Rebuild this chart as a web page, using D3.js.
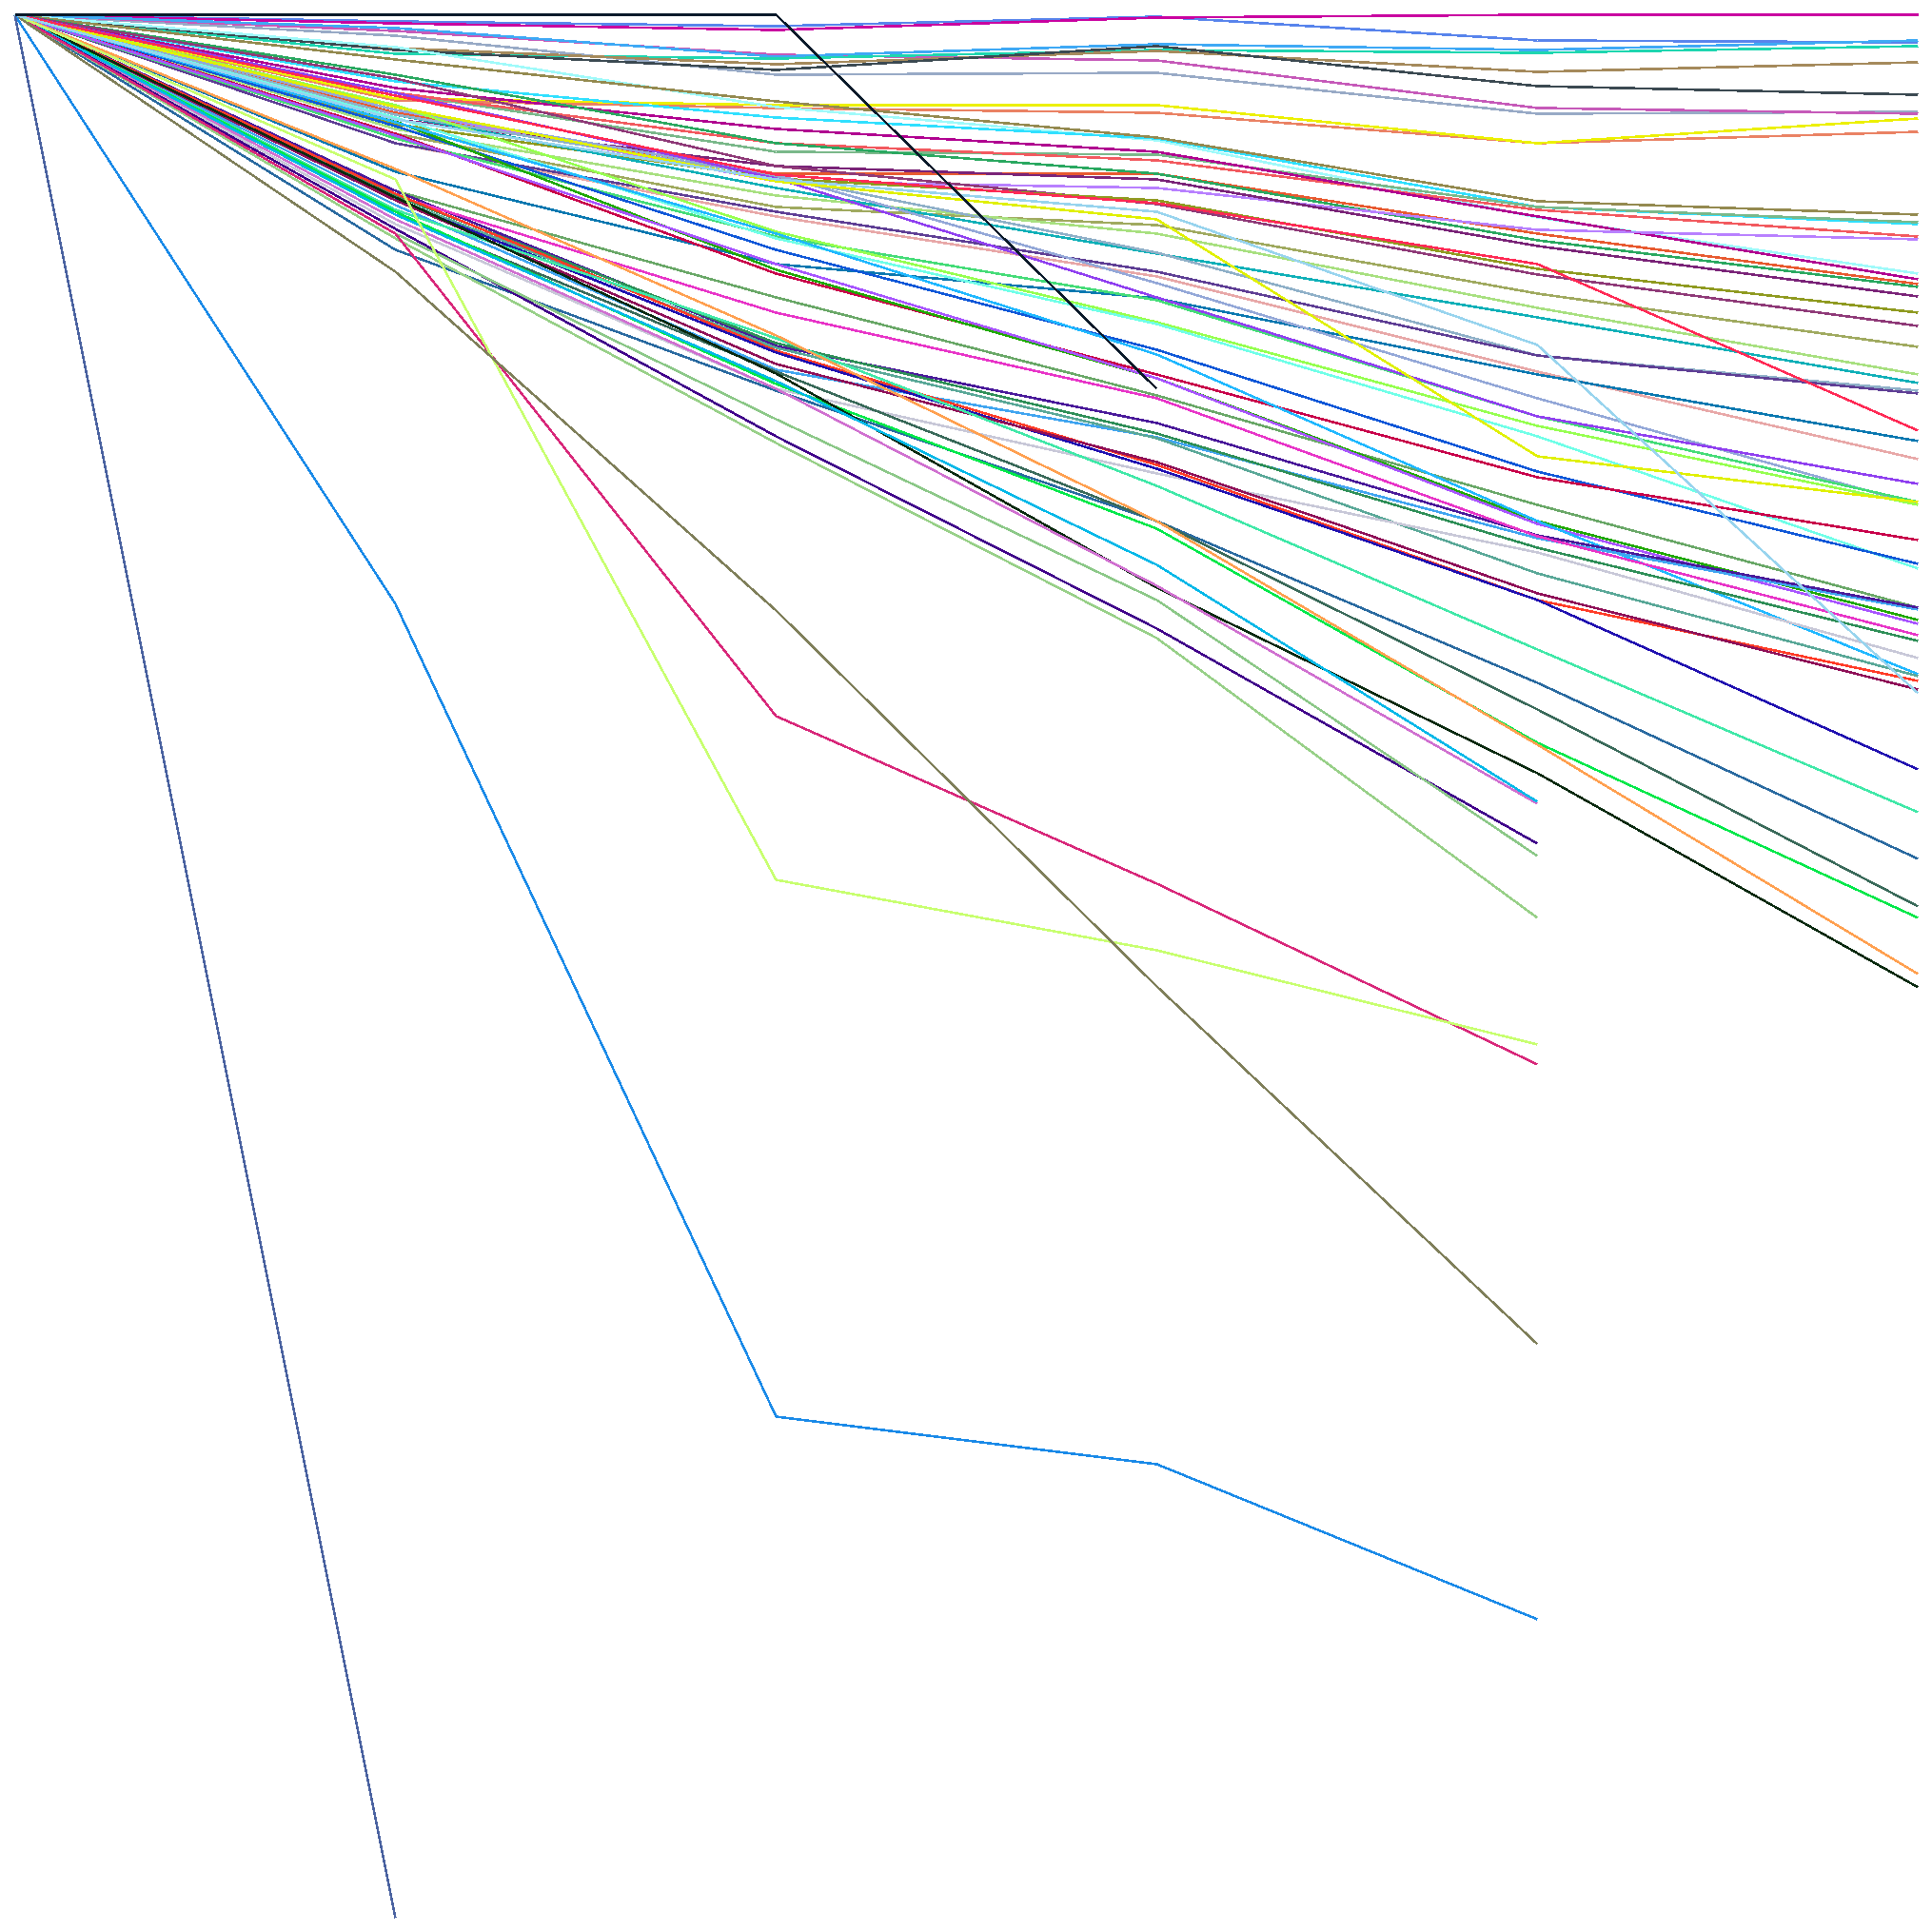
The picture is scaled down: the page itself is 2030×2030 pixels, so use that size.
<!DOCTYPE html>
<html><head><meta charset="utf-8">
<script src="https://cdn.jsdelivr.net/npm/d3@7/dist/d3.min.js"></script>
<style>html,body{margin:0;padding:0;background:#fff}svg{display:block}</style>
</head><body><svg id="c" width="2030" height="2030"></svg>
<script>
const categories=[0,1,2,3,4,5];
const colors=[
"#98aac6","#c65ab9","#5884ec","#c900a0","#3fa9f5","#1ed6b0","#a58a5c","#3c4a52","#e85a30","#ea8264","#ecf000",
"#a0fafa","#30e0ff","#948a50","#7ab88a","#f25a5f","#b00090","#2aa860","#b880ff","#7a2478","#8f3a78",
"#8f9a20","#a0aa60","#a8e080","#10b0b8","#8fb0c8","#e8a8a8","#5f3f95","#0a78b0","#94a8d8","#45dc78","#9040f0","#96ff50","#70ffe8",
"#e0f000","#ff2a55","#1058d8","#c8004a","#6aa868","#20a800","#a855ff","#20b8ff","#40a5f0","#4a1a9a","#e835c8","#2f8f58","#5aa898","#c8c8d8",
"#ff3c28","#2010b0","#8f1058","#40e8a8","#2a6aa0","#3a6a5a","#00e84a","#ffa050","#0a2a10","#d070d0","#00b8e8","#40008a","#8cc888","#98d088",
"#d8287a","#c8ff70","#7f7f5a","#1a8ae8","#4a62a0","#98d4ee","#0a1a2a"];
const seriesValues=[
[15,37,78,76,119,117],[15,32,57,63,113,119],[15,22,27,17,42,44],[15,24,31,18,15,15],[15,29,59,46,52,42],[15,56,61,52,55,48],[15,50,67,53,75,65],[15,52,73,48,90,99],[15,118,182,182,245,298],[15,105,113,118,150,138],[15,103,110,110,150,124],
[15,49,112,147,228,287],[15,85,123,145,217,235],[15,62,106,144,211,225],[15,97,159,162,217,233],[15,97,150,168,220,248],[15,92,135,159,227,293],[15,78,150,182,252,301],[15,115,190,197,241,251],[15,125,174,188,258,311],[15,82,174,214,288,342],
[15,130,187,210,282,328],[15,140,217,236,308,364],[15,135,205,245,323,393],[15,120,197,266,333,402],[15,120,185,265,373,410],[15,150,227,290,390,482],[15,150,222,285,373,413],[15,180,277,313,393,463],[15,115,183,297,418,530],[15,145,248,315,437,527],[15,97,187,312,437,508],[15,110,243,338,447,530],[15,123,250,340,458,597],
[15,112,190,230,479,527],[15,100,183,213,277,452],[15,132,262,367,495,592],[15,140,287,393,501,567],[15,200,312,415,530,638],[15,127,283,397,547,651],[15,142,277,397,550,655],[15,128,245,372,547,708],[15,215,388,459,565,640],[15,200,363,444,562,638],[15,205,328,418,563,667],[15,205,360,455,575,673],[15,208,365,460,602,710],[15,235,408,497,580,691],
[15,203,368,488,630,715],[15,210,370,492,630,808],[15,210,382,485,623,724],[15,220,355,510,682,853],[15,262,410,547,717,902],[15,225,390,547,745,952],[15,222,403,555,780,964],[15,177,352,547,782,1023],[15,207,392,617,812,1037],[15,230,408,615,844,null],[15,225,400,593,842,null],[15,240,458,660,886,null],[15,245,440,630,899,null],[15,250,465,670,964,null],
[15,245,752,928,1118,null],[15,188,924,998,1097,null],[15,285,641,1036,1412,null],[15,634,1488,1538,1701,null],[15,2015,null,null,null,null],[15,125,188,222,362,728],[15,15,15,408,null,null]];

const width=2030,height=2030;
const x=d3.scaleLinear().domain([0,5]).range([15.5,2015.5]);
const y=d3.scaleLinear().domain([15,2015]).range([15.5,2015.5]);
const line=d3.line().defined(d=>d.v!==null).x(d=>x(d.c)).y(d=>y(d.v));
d3.select("#c").append("g").selectAll("path").data(seriesValues).join("path")
 .attr("d",r=>line(r.map((v,i)=>({c:categories[i],v}))))
 .attr("fill","none").attr("stroke",(r,i)=>colors[i]).attr("stroke-width",2.6)
 .attr("shape-rendering","crispEdges");
</script></body></html>
